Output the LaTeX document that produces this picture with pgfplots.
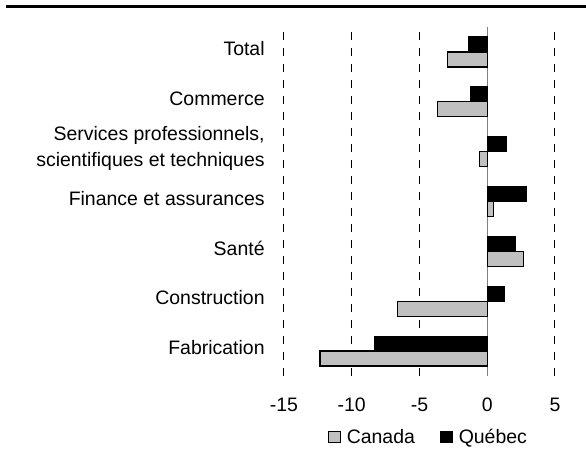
\documentclass[border=0pt]{standalone}
\usepackage{fontspec}
\setmainfont{Liberation Sans}
\usepackage{pgfplots}
\pgfplotsset{compat=1.18}
\definecolor{cangray}{RGB}{192,192,192}

\begin{document}
\begin{tikzpicture}[x=1pt,y=1pt]
\useasboundingbox (0,0) rectangle (439.5,348);
\draw[line width=2.25pt] (4.5,343.1) -- (439.5,343.1);
\begin{axis}[
    at={(213pt,66pt)}, anchor=south west,
    scale only axis,
    width=203.25pt, height=261.75pt,
    xmin=-15, xmax=5,
    ymin=-0.5, ymax=6.5,
    xtick={-15,-10,-5,5},
    extra x ticks={0},
    extra x tick style={grid style={solid, gray, line width=0.75pt}},
    ytick={0,1,2,3,4,5,6},
    yticklabels={Fabrication, Construction, Santé, Finance et assurances,
      {Services professionnels,\\scientifiques et techniques}, Commerce, Total},
    xmajorgrids=true,
    grid style={black, line width=0.75pt, dash pattern=on 6pt off 6pt},
    axis line style={draw=none},
    major tick length=0pt,
    tick style={draw=none},
    /pgf/number format/assume math mode=true,
    ticklabel style={font=\fontsize{14.6}{20}\selectfont},
    yticklabel style={align=right, xshift=-11pt, yshift=2.5pt},
    xticklabel style={yshift=-13pt},
    legend style={at={(0.535,-0.175)}, anchor=center, draw=none,
      font=\fontsize{14.6}{16}\selectfont, legend columns=2,
      /tikz/every even column/.append style={column sep=17pt}},
    legend image code/.code={\draw[#1, line width=0.75pt] (0pt,-4.2pt) rectangle (8.4pt,4.2pt);
      \path (11pt,0pt);},
]
\addplot[xbar, bar width=11.25pt, bar shift=-5.6pt, fill=cangray, draw=black, line width=0.9pt]
  coordinates {(-12.35,0) (-6.6,1) (2.7,2) (0.45,3) (-0.55,4) (-3.7,5) (-2.95,6)};
\addlegendentry{Canada}
\addplot[xbar, bar width=11.25pt, bar shift=5.6pt, fill=black, draw=black, line width=0.9pt]
  coordinates {(-8.3,0) (1.3,1) (2.1,2) (2.9,3) (1.4,4) (-1.25,5) (-1.4,6)};
\addlegendentry{Québec}
\end{axis}
\end{tikzpicture}
\end{document}
